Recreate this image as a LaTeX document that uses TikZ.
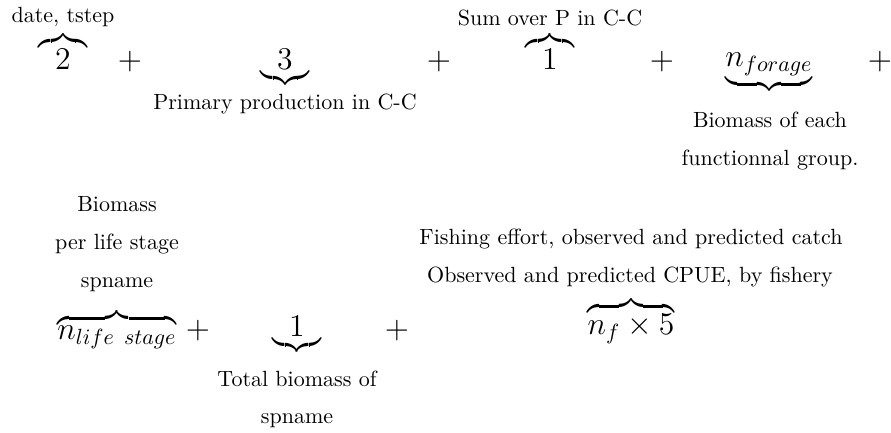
\documentclass[tikz,border=0pt]{standalone}
\usepackage{amsmath}
\newcommand{\obr}[2][]{\overbrace{\hbox to #1{\hss\Large$#2$\hss}}}
\newcommand{\ubr}[2][]{\underbrace{\hbox to #1{\hss\Large$#2$\hss}}}
\newcommand{\obn}[1]{\overbrace{\hbox{\Large$#1$}}}
\newcommand{\ubn}[1]{\underbrace{\hbox{\Large$#1$}}}
\begin{document}
\begin{tikzpicture}[x=0.4545pt,y=-0.4545pt,
  lbl/.style={inner sep=0pt,anchor=base,font=\normalsize},
  mth/.style={inner sep=0pt,anchor=base,font=\large},
  pls/.style={inner sep=0pt,anchor=base,font=\Large}]
\useasboundingbox (0,0) rectangle (891,433);
% row 1
\node[lbl] (tdate) at (63,23) {date, tstep};
\node[mth] (m2) at (63,70) {$\obr[22pt]{2}$};
\node[pls] (p1) at (130,70) {$+$};
\node[mth] (m3) at (285,70) {$\ubr[22pt]{3}$};
\node[lbl] (tpp) at (285,110) {Primary production in C-C};
\node[pls] (p2) at (439,70) {$+$};
\node[lbl] (tsum) at (550,26) {Sum over P in C-C};
\node[mth] (m1a) at (550,70) {$\obr[22pt]{1}$};
\node[pls] (p3) at (662,70) {$+$};
\node[mth] (mfor) at (769,67) {$\ubn{n_{forage}}$};
\node[lbl] (tbio1) at (770,128) {Biomass of each};
\node[lbl] (tbio2) at (770,166) {functionnal group.};
\node[pls] (p4) at (880,70) {$+$};
% row 2
\node[lbl] (tls1) at (117,212) {Biomass};
\node[lbl] (tls2) at (117,250) {per life stage};
\node[lbl] (tls3) at (117,288) {spname};
\node[mth] (mlife) at (117,340) {$\obn{n_{life\ stage}}$};
\node[pls] (p5) at (198,339) {$+$};
\node[mth] (m1b) at (297,337) {$\ubr[22pt]{1}$};
\node[lbl] (ttot1) at (297,387) {Total biomass of};
\node[lbl] (ttot2) at (297,424) {spname};
\node[pls] (p6) at (397,339) {$+$};
\node[lbl] (tfish1) at (631,245) {Fishing effort, observed and predicted catch};
\node[lbl] (tfish2) at (630,283) {Observed and predicted CPUE, by fishery};
\node[mth] (mnf) at (631,335) {$\obn{n_f\times 5}$};
\end{tikzpicture}
\end{document}
